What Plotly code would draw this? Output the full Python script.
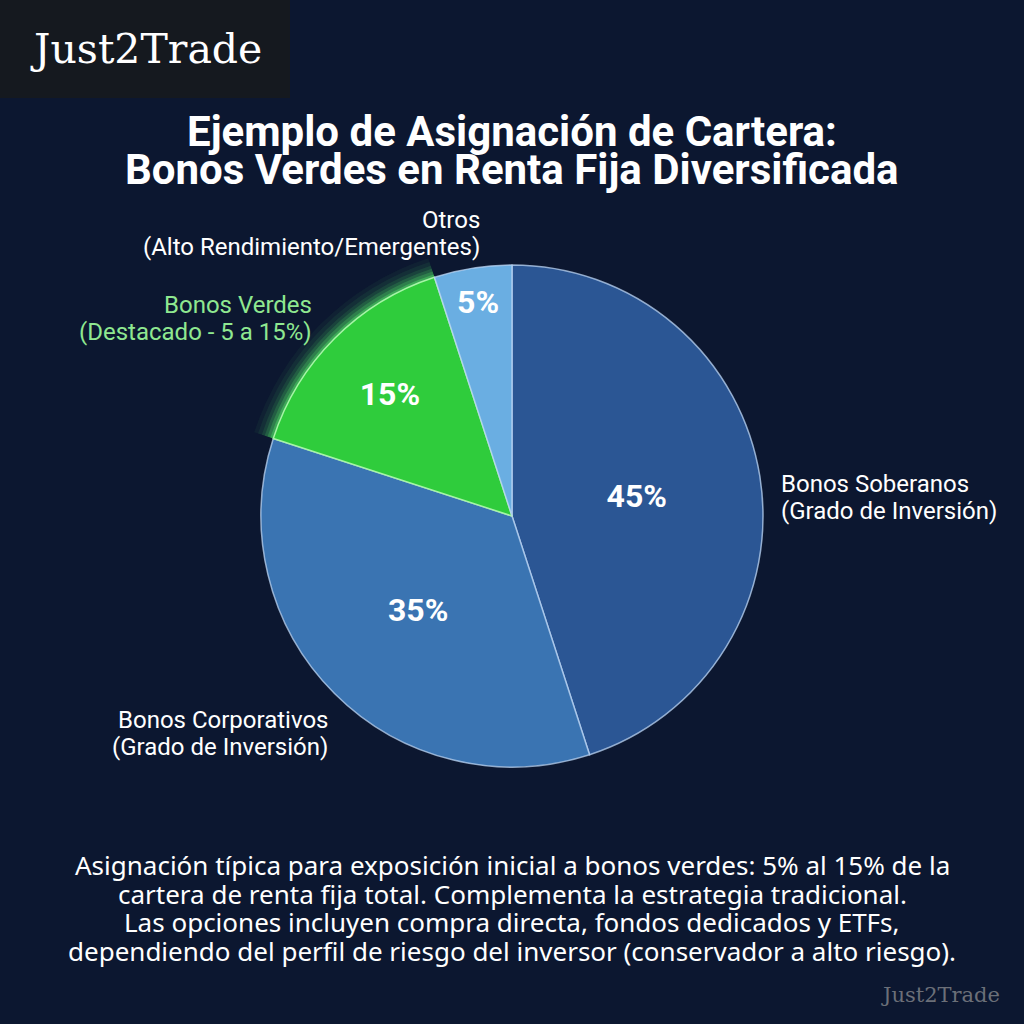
import plotly.graph_objects as go

# Datos de la cartera
categorias = ["Bonos Soberanos", "Bonos Corporativos", "Bonos Verdes", "Otros"]
porcentajes = [45, 35, 15, 5]
colores = ["#2b5694", "#3a74b2", "#2fcc3c", "#6aaee2"]

titulo = ["Ejemplo de Asignación de Cartera:",
          "Bonos Verdes en Renta Fija Diversificada"]
nota = ["Asignación típica para exposición inicial a bonos verdes: 5% al 15% de la",
        "cartera de renta fija total. Complementa la estrategia tradicional.",
        "Las opciones incluyen compra directa, fondos dedicados y ETFs,",
        "dependiendo del perfil de riesgo del inversor (conservador a alto riesgo)."]

BG = "#0c1730"


def px_x(x):
    return x / 1024


def px_y(y):
    return 1 - y / 1024


fig = go.Figure()

# halo verde alrededor del sector de bonos verdes
cx, cy, r = 512, 516, 251
halo = [(20, 0.05), (16, 0.07), (12, 0.10), (9, 0.15), (6, 0.22), (3, 0.35)]
for extra, alpha in halo:
    rr = r + extra
    fig.add_trace(go.Pie(
        labels=categorias, values=porcentajes, sort=False, direction="clockwise",
        marker=dict(colors=["rgba(0,0,0,0)", "rgba(0,0,0,0)",
                            f"rgba(90,245,110,{alpha})", "rgba(0,0,0,0)"],
                    line=dict(width=0)),
        textinfo="none", hoverinfo="skip", showlegend=False,
        domain=dict(x=[px_x(cx - rr), px_x(cx + rr)], y=[px_y(cy + rr), px_y(cy - rr)]),
    ))

fig.add_trace(go.Pie(
    labels=categorias, values=porcentajes, sort=False, direction="clockwise",
    marker=dict(colors=colores,
                line=dict(color=["rgba(190,215,245,0.75)", "rgba(190,215,245,0.75)",
                                 "#a6f5a6", "rgba(190,215,245,0.75)"], width=1.5)),
    texttemplate="%{value}%", textposition="inside",
    insidetextorientation="horizontal",
    insidetextfont=dict(family="Roboto", size=32, color="white", weight="bold"),
    showlegend=False,
    domain=dict(x=[px_x(cx - r), px_x(cx + r)], y=[px_y(cy + r), px_y(cy - r)]),
))

# etiquetas exteriores, una anotación por línea
etiquetas = [
    (["Otros", "(Alto Rendimiento/Emergentes)"], 482, 220, "right", "white"),
    (["Bonos Verdes", "(Destacado - 5 a 15%)"], 314, 305, "right", "#8fe890"),
    (["Bonos Soberanos", "(Grado de Inversión)"], 779, 484, "left", "white"),
    (["Bonos Corporativos", "(Grado de Inversión)"], 330, 720, "right", "white"),
]
for lineas, x, y, al, col in etiquetas:
    for i, txt in enumerate(lineas):
        fig.add_annotation(
            text=txt, x=px_x(x), y=px_y(y + 27 * i), xref="paper", yref="paper",
            xanchor=al, yanchor="middle", showarrow=False,
            font=dict(family="Roboto", size=24, color=col),
        )

for i, txt in enumerate(titulo):
    fig.add_annotation(
        text=f"<b>{txt}</b>", x=0.5, y=px_y(131 + 38 * i), xref="paper", yref="paper",
        xanchor="center", yanchor="middle", showarrow=False,
        font=dict(family="Roboto", size=42, color="white"),
    )

for i, txt in enumerate(nota):
    fig.add_annotation(
        text=txt, x=0.5, y=px_y(865 + 28.5 * i), xref="paper", yref="paper",
        xanchor="center", yanchor="middle", showarrow=False,
        font=dict(family="Noto Sans", size=26, color="white"),
    )

# logo
fig.add_shape(type="rect", xref="paper", yref="paper", x0=0, x1=px_x(290),
              y0=px_y(98), y1=1, fillcolor="#15191f", line=dict(width=0), layer="below")
fig.add_annotation(
    text="Just2Trade", x=px_x(28), y=px_y(49), xref="paper", yref="paper",
    xanchor="left", yanchor="middle", showarrow=False,
    font=dict(family="DejaVu Serif", size=41, color="white"),
)
fig.add_annotation(
    text="Just2Trade", x=px_x(1002), y=px_y(995), xref="paper", yref="paper",
    xanchor="right", yanchor="middle", showarrow=False,
    font=dict(family="DejaVu Serif", size=21, color="#6b6f78"),
)

fig.update_layout(
    width=1024, height=1024,
    margin=dict(l=0, r=0, t=0, b=0),
    paper_bgcolor=BG, plot_bgcolor=BG,
    showlegend=False,
)

fig.write_html("out.html", config={"displayModeBar": False},
               post_script="document.body.style.margin='0';"
                           "document.body.style.background='#0c1730';")
